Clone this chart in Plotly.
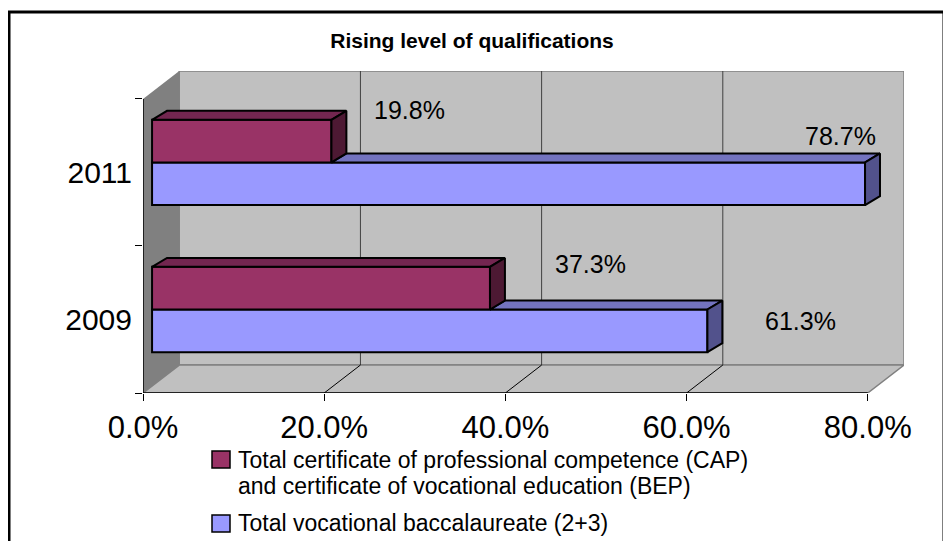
import plotly.graph_objects as go

# ---------------- data ----------------
categories = ["2009", "2011"]
cap_bep = [37.3, 19.8]          # Total CAP + BEP (%)
bac_pro = [61.3, 78.7]          # Total vocational baccalaureate (%)
x_tick_values = [0, 20, 40, 60, 80]
x_tick_labels = ["0.0%", "20.0%", "40.0%", "60.0%", "80.0%"]
series_lines = [
    ["Total certificate of professional competence (CAP)",
     "and certificate of vocational education (BEP)"],
    ["Total vocational baccalaureate (2+3)"],
]
chart_title = "Rising level of qualifications"

# ---------------- styling / geometry ----------------
OFF = 8                            # page body margin
W, H = 943, 533
ML, MT = 143 - OFF, 71 - OFF
PW, PH = 761, 322
MR, MB = W - ML - PW, H - MT - PH
X_MAX_VAL = 80.0
WALL_DX, WALL_DY = 4.0, 0.19      # depth of the 3D box (data units)
XMAX, YMAX = X_MAX_VAL + WALL_DX, 2 + WALL_DY
BAR_X0, BAR_Y0 = 1.0, 0.068       # bars sit a bit inside the box
BAR_W = 0.29
DDX, DDY = 1.65, 0.061            # depth of each bar

RED = dict(front="#993366", top="#732650", side="#4d1933")
BLUE = dict(front="#9999ff", top="#7373bf", side="#52528c")
FONT = "Liberation Sans, Arial, sans-serif"

# label offsets in pixels (Excel 3D label placement)
label_shift_red = [(101, 24), (78, 31)]
label_shift_blue = [(93, 10), (-25, 48)]

fig = go.Figure()

cat_pos = [i + 0.5 for i in range(len(categories))]
red_center = [c + BAR_Y0 + BAR_W / 2 for c in cat_pos]
blue_center = [c + BAR_Y0 - BAR_W / 2 for c in cat_pos]

# front faces
fig.add_trace(go.Bar(orientation="h", y=blue_center, x=bac_pro, base=BAR_X0, width=BAR_W,
                     marker=dict(color=BLUE["front"], line=dict(color="black", width=2)),
                     name=" ".join(series_lines[1]), showlegend=False, hoverinfo="skip"))
fig.add_trace(go.Bar(orientation="h", y=red_center, x=cap_bep, base=BAR_X0, width=BAR_W,
                     marker=dict(color=RED["front"], line=dict(color="black", width=2)),
                     name=" ".join(series_lines[0]), showlegend=False, hoverinfo="skip"))


def face(xs, ys, color):
    fig.add_trace(go.Scatter(x=xs + [xs[0]], y=ys + [ys[0]], mode="lines", fill="toself",
                             fillcolor=color, line=dict(color="black", width=2),
                             showlegend=False, hoverinfo="skip"))


for i, c in enumerate(cat_pos):
    vb, vr = bac_pro[i], cap_bep[i]
    yb_b = c + BAR_Y0 - BAR_W
    yt_b = c + BAR_Y0
    yt_r = c + BAR_Y0 + BAR_W
    start = BAR_X0 + min(vr, vb)
    end = BAR_X0 + vb
    if end > start:
        face([start, start + DDX, end + DDX, end], [yt_b, yt_b + DDY, yt_b + DDY, yt_b], BLUE["top"])
    face([end, end, end + DDX, end + DDX], [yb_b, yt_b, yt_b + DDY, yb_b + DDY], BLUE["side"])
    rx0, rx1 = BAR_X0, BAR_X0 + vr
    face([rx0, rx0 + DDX, rx1 + DDX, rx1], [yt_r, yt_r + DDY, yt_r + DDY, yt_r], RED["top"])
    face([rx1, rx1, rx1 + DDX, rx1 + DDX], [yt_b, yt_r, yt_r + DDY, yt_b + DDY], RED["side"])

# ---------------- walls / floor ----------------
shapes = []
shapes.append(dict(type="path", layer="below", xref="x", yref="y",
                   path=f"M 0,0 L {WALL_DX},{WALL_DY} L {WALL_DX},{YMAX} L 0,2 Z",
                   fillcolor="#808080", line=dict(width=0)))
shapes.append(dict(type="rect", layer="below", xref="x", yref="y",
                   x0=WALL_DX, x1=XMAX, y0=WALL_DY, y1=YMAX,
                   fillcolor="#c0c0c0", line=dict(color="#808080", width=1.5)))
shapes.append(dict(type="path", layer="below", xref="x", yref="y",
                   path=f"M 0,0 L {WALL_DX},{WALL_DY} L {XMAX},{WALL_DY} L {X_MAX_VAL},0 Z",
                   fillcolor="#c0c0c0", line=dict(color="#808080", width=1.5)))
for v in x_tick_values[1:-1]:
    shapes.append(dict(type="line", layer="below", xref="x", yref="y",
                       x0=v + WALL_DX, x1=v + WALL_DX, y0=WALL_DY, y1=YMAX,
                       line=dict(color="#404040", width=1)))
    shapes.append(dict(type="line", layer="below", xref="x", yref="y",
                       x0=v, x1=v + WALL_DX, y0=0, y1=WALL_DY,
                       line=dict(color="black", width=1)))
shapes.append(dict(type="line", layer="below", xref="x", yref="y", x0=0, x1=X_MAX_VAL, y0=0, y1=0,
                   line=dict(color="black", width=1.5)))
shapes.append(dict(type="line", layer="below", xref="x", yref="y", x0=0, x1=0, y0=0, y1=2,
                   line=dict(color="black", width=1.5)))


def px(x):   # reference-image pixel -> paper
    return (x - OFF - ML) / PW


def py(y):
    return (H - MB - (y - OFF)) / PH


# outer chart border
shapes.append(dict(type="rect", xref="paper", yref="paper", x0=px(9), x1=px(944), y0=py(600), y1=py(12),
                   line=dict(color="black", width=3), fillcolor="rgba(0,0,0,0)"))

# manual legend
annotations = []
legend_items = [(RED["front"], series_lines[0], 451, [460, 486]),
                (BLUE["front"], series_lines[1], 515, [523])]
for color, lines, top, ys in legend_items:
    shapes.append(dict(type="rect", xref="paper", yref="paper", x0=px(212), x1=px(230),
                       y0=py(top + 17), y1=py(top), fillcolor=color,
                       line=dict(color="black", width=1.5)))
    for text, yc in zip(lines, ys):
        annotations.append(dict(xref="paper", yref="paper", x=px(236), y=py(yc), xanchor="left",
                                yanchor="middle", align="left", text=text, showarrow=False,
                                font=dict(family=FONT, size=23, color="black")))

# data labels
for i in range(len(categories)):
    dx, dy = label_shift_red[i]
    annotations.append(dict(x=BAR_X0 + cap_bep[i], y=red_center[i], xref="x", yref="y",
                            text=f"{cap_bep[i]:.1f}%", showarrow=False, xshift=dx, yshift=dy,
                            font=dict(family=FONT, size=25, color="black")))
    dx, dy = label_shift_blue[i]
    annotations.append(dict(x=BAR_X0 + bac_pro[i], y=blue_center[i], xref="x", yref="y",
                            text=f"{bac_pro[i]:.1f}%", showarrow=False, xshift=dx, yshift=dy,
                            font=dict(family=FONT, size=25, color="black")))

fig.update_layout(
    width=W, height=H,
    margin=dict(l=ML, r=MR, t=MT, b=MB, pad=0),
    paper_bgcolor="white", plot_bgcolor="white",
    title=dict(text=f"<b>{chart_title}</b>", x=(472 - OFF) / W, xanchor="center",
               y=1 - (41 - OFF) / H, yanchor="middle",
               font=dict(family=FONT, size=21, color="black")),
    barmode="overlay",
    shapes=shapes, annotations=annotations,
    showlegend=False,
    xaxis=dict(range=[0, XMAX], showgrid=False, zeroline=False, showline=False,
               tickmode="array", tickvals=x_tick_values, ticktext=x_tick_labels,
               ticks="outside", ticklen=7, tickcolor="black", tickwidth=1,
               tickfont=dict(family=FONT, size=31, color="black"), fixedrange=True),
    yaxis=dict(range=[0, YMAX], showgrid=False, zeroline=False, showline=False,
               tickmode="array", tickvals=cat_pos, ticktext=categories, ticks="",
               ticklabelstandoff=10,
               minor=dict(tickmode="array", tickvals=[0, 1, 2], ticks="outside", ticklen=7,
                          tickcolor="black", tickwidth=1, showgrid=False),
               tickfont=dict(family=FONT, size=30, color="black"), fixedrange=True),
)

fig.write_html("out.html")
